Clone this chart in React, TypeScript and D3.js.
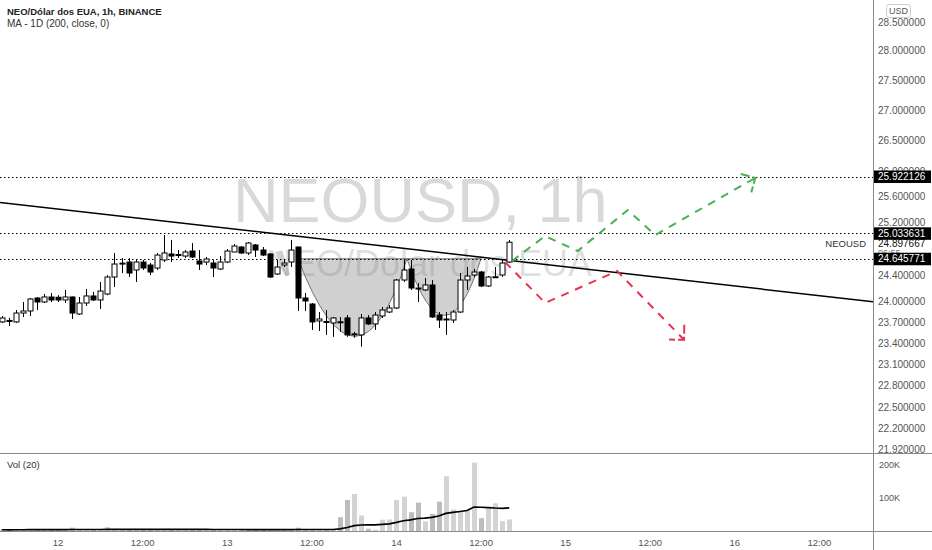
import { useEffect } from "react"
import * as d3 from "d3"

// NEO/USD 1h candles, first candle = 11th 16:00
const startTime = Date.UTC(2021, 0, 11, 16)
const HOUR = 3600000

const opens = [
  23.708, 23.73, 23.708, 23.838, 23.868, 24.059, 24.0, 24.074, 24.07, 24.03,
  24.074, 23.824, 23.985, 24.089, 24.03, 24.118, 24.371, 24.57, 24.596, 24.476,
  24.596, 24.551, 24.506, 24.627, 24.718, 24.7, 24.687, 24.763, 24.612, 24.596,
  24.581, 24.491, 24.596, 24.748, 24.824, 24.733, 24.855, 24.778, 24.718, 24.416,
  24.551, 24.596, 24.824, 24.059, 23.97, 23.722, 23.715, 23.693, 23.71, 23.766,
  23.53, 23.52, 23.766, 23.679, 23.795, 23.853, 23.912, 24.326, 24.491, 24.207,
  24.178, 24.252, 23.809, 23.745, 23.736, 23.853, 24.326, 24.401, 24.446, 24.237,
  24.365, 24.401, 24.596
]
const highs = [
  23.795, 23.766, 23.882, 24.0, 24.059, 24.074, 24.118, 24.133, 24.1, 24.178,
  24.08, 24.074, 24.192, 24.148, 24.297, 24.4, 24.733, 24.657, 24.657, 24.627,
  24.627, 24.581, 24.733, 25.008, 24.931, 24.778, 24.778, 24.885, 24.778, 24.672,
  24.627, 24.687, 24.793, 24.87, 24.839, 24.9, 24.87, 24.824, 24.733, 24.627,
  24.642, 24.931, 24.83, 24.133, 23.985, 23.853, 23.882, 23.78, 23.78, 23.809,
  23.564, 23.824, 23.809, 23.853, 23.926, 23.956, 24.341, 24.627, 24.627, 24.282,
  24.356, 24.326, 23.853, 23.853, 23.882, 24.431, 24.521, 24.491, 24.461, 24.386,
  24.521, 24.627, 24.931
]
const lows = [
  23.693, 23.65, 23.693, 23.78, 23.795, 23.882, 23.985, 24.0, 24.0, 23.985,
  23.751, 23.809, 23.941, 24.015, 23.897, 24.1, 24.222, 24.431, 24.371, 24.297,
  24.476, 24.401, 24.476, 24.596, 24.596, 24.657, 24.657, 24.657, 24.476, 24.551,
  24.371, 24.476, 24.581, 24.748, 24.718, 24.702, 24.672, 24.687, 24.356, 24.401,
  24.521, 24.521, 23.868, 23.868, 23.592, 23.578, 23.52, 23.492, 23.564, 23.492,
  23.478, 23.351, 23.664, 23.592, 23.766, 23.838, 23.897, 24.297, 24.178, 24.0,
  24.162, 23.766, 23.621, 23.52, 23.693, 23.838, 24.178, 24.371, 24.222, 24.222,
  24.356, 24.371, 24.581
]
const closes = [
  23.766, 23.715, 23.838, 23.868, 24.044, 24.0, 24.074, 24.03, 24.03, 24.074,
  23.838, 23.985, 24.089, 24.03, 24.162, 24.371, 24.566, 24.58, 24.431, 24.596,
  24.506, 24.446, 24.702, 24.733, 24.687, 24.71, 24.748, 24.672, 24.566, 24.642,
  24.506, 24.596, 24.763, 24.839, 24.733, 24.885, 24.778, 24.702, 24.371, 24.521,
  24.581, 24.778, 24.059, 24.015, 23.708, 23.751, 23.708, 23.766, 23.708, 23.52,
  23.535, 23.766, 23.679, 23.809, 23.882, 23.912, 24.326, 24.476, 24.207, 24.192,
  24.252, 23.78, 23.736, 23.751, 23.853, 24.326, 24.386, 24.446, 24.237, 24.371,
  24.375, 24.581, 24.897667
]
const volumes = [
  4000, 3000, 5000, 4000, 6000, 3000, 4000, 5000, 3000, 4000,
  10000, 5000, 4000, 3000, 5000, 12000, 6000, 4000, 5000, 3000,
  4000, 5000, 4000, 6000, 5000, 4000, 3000, 4000, 5000, 4000,
  3000, 5000, 4000, 3000, 4000, 5000, 4000, 3000, 4000, 5000,
  4000, 6000, 10000, 5000, 4000, 3000, 4000, 5000, 42000, 94000,
  112000, 47000, 7000, 4000, 34000, 35000, 94000, 104000, 57000, 86000,
  29000, 52000, 89000, 166000, 65000, 60000, 62000, 207000, 39000, 69000,
  84000, 30000, 35000
]

// 24.8 sits under the last-price label and is not shown
const priceTicks = [28.5, 28, 27.5, 27, 26.5, 26, 25.6, 25.2, 24.4, 24, 23.7, 23.4, 23.1, 22.8, 22.5, 22.2, 21.92]
const levelPrices = [25.922126, 25.033631, 24.645771]
const volTicks = [100000, 200000]
const volTickLabels = ["100K", "200K"]

// drawings: [hours after first candle, price]
const trendLine = [[0, 25.51], [100, 24.284]]
const greenPath = [[72.4, 24.612], [77.06, 24.992], [81.7, 24.763], [88.8, 25.394], [92.7, 25.008], [106.9, 25.9]]
const redPath = [[71.4, 24.596], [77.1, 23.985], [87.3, 24.461], [96.8, 23.45]]
const cupLeft = [[42.03, 24.645771], [50.47, 22.405], [57.49, 24.645771]]
const cupRight = [[57.49, 24.645771], [62.95, 22.99], [67.99, 24.645771]]
const wedge = [[38.8, 24.75], [39.8, 24.77], [40.9, 24.41], [40.3, 24.38]]

const W = 932
const H = 550
const axisX = 873
const paneBottom = 453
const volBottom = 531
const font = "'Liberation Sans', Arial, sans-serif"

function arrowHead(pts: number[][], len = 15) {
  const [x1, y1] = pts[pts.length - 2]
  const [x2, y2] = pts[pts.length - 1]
  const back = Math.atan2(y1 - y2, x1 - x2)
  const a = back + Math.PI / 4
  const b = back - Math.PI / 4
  return `M${x2 + len * Math.cos(a)},${y2 + len * Math.sin(a)}L${x2},${y2}L${x2 + len * Math.cos(b)},${y2 + len * Math.sin(b)}`
}

export default function App() {
  useEffect(() => {
    document.body.style.margin = "0"
  }, [])

  const x = d3.scaleUtc()
    .domain([new Date(startTime - 0.241 * HOUR), new Date(startTime + 123.6 * HOUR)])
    .range([0, axisX])
  const y = d3.scaleLog().domain([21.875, 28.889]).range([paneBottom, 0])
  const yVol = d3.scaleLinear().domain([0, 200000]).range([volBottom, 465])

  const tx = (h: number) => x(new Date(startTime + h * HOUR))
  const px = (p: number[]) => [tx(p[0]), y(p[1])]

  const bodyW = 5
  const volMA = volumes.map((_, i) => d3.mean(volumes.slice(Math.max(0, i - 19), i + 1)) as number)
  const maLine = d3.line<number>()
    .x((_, i) => tx(i))
    .y((d) => yVol(d))(volMA)

  // trend line extended across the pane
  const [ta, tb] = trendLine.map(px)
  const slope = (tb[1] - ta[1]) / (tb[0] - ta[0])
  const trendY0 = ta[1] - slope * ta[0]
  const trendY1 = ta[1] + slope * (axisX - ta[0])

  const cupPath = (c: number[][]) => {
    const [p0, p1, p2] = c.map(px)
    return `M${p0[0]},${p0[1]}Q${p1[0]},${p1[1]} ${p2[0]},${p2[1]}Z`
  }

  const greenPx = greenPath.map(px)
  const redPx = redPath.map(px)
  const pathLine = d3.line()

  const timeTicks = x.ticks(d3.utcHour.every(12) as d3.TimeInterval)
  const fmtTime = (d: Date) => (d.getUTCHours() === 0 ? d3.utcFormat("%-d")(d) : d3.utcFormat("%H:%M")(d))
  const fmtPrice = d3.format(".6f")
  const lastClose = closes[closes.length - 1]

  return (
    <svg width={W} height={H} style={{ display: "block", background: "#fff", fontFamily: font }}>
      <defs>
        <clipPath id="pane">
          <rect x={0} y={0} width={axisX} height={paneBottom} />
        </clipPath>
      </defs>

      {/* watermark */}
      <g fill="rgba(0,0,0,0.15)">
        <text x={233} y={222} fontSize={63}>NEOUSD, 1h</text>
        <text x={266} y={276} fontSize={36}>NEO/Dólar dos EUA</text>
      </g>

      <g clipPath="url(#pane)">
        {/* cup drawings */}
        {[cupLeft, cupRight].map((c, i) => (
          <path key={i} d={cupPath(c)} fill="rgba(120,120,120,0.35)" stroke="#555" strokeWidth={0.8} />
        ))}
        <path d={(pathLine(wedge.map(px) as [number, number][]) ?? "") + "Z"} fill="rgba(120,120,120,0.35)" />

        {/* horizontal levels */}
        {levelPrices.map((p) => (
          <line key={p} x1={0} x2={axisX} y1={Math.round(y(p)) + 0.5} y2={Math.round(y(p)) + 0.5}
            stroke="#000" strokeWidth={1.2} strokeDasharray="1.5,2.5" />
        ))}

        {/* trend line */}
        <line x1={0} y1={trendY0} x2={axisX} y2={trendY1} stroke="#000" strokeWidth={1.5} />

        {/* candles */}
        {opens.map((o, i) => {
          const c = closes[i]
          const cx = Math.round(tx(i)) + 0.5
          const up = c >= o
          const top = y(Math.max(o, c))
          const bot = y(Math.min(o, c))
          return (
            <g key={i}>
              <line x1={cx} x2={cx} y1={y(highs[i])} y2={y(lows[i])} stroke="#000" strokeWidth={1} />
              <rect x={cx - bodyW / 2} y={top} width={bodyW} height={Math.max(1, bot - top)}
                fill={up ? "#fff" : "#000"} stroke="#000" strokeWidth={1} />
            </g>
          )
        })}

        {/* projection arrows */}
        <path d={pathLine(greenPx as [number, number][]) ?? ""} fill="none" stroke="#4caf50" strokeWidth={2} strokeDasharray="8,7" />
        <path d={arrowHead(greenPx)} fill="none" stroke="#4caf50" strokeWidth={2} strokeDasharray="9,3" />
        <path d={pathLine(redPx as [number, number][]) ?? ""} fill="none" stroke="#e8344e" strokeWidth={2} strokeDasharray="8,7" />
        <path d={arrowHead(redPx)} fill="none" stroke="#e8344e" strokeWidth={2} strokeDasharray="9,3" />
      </g>

      {/* volume pane */}
      {volumes.map((v, i) => {
        const cx = Math.round(tx(i))
        const up = closes[i] >= opens[i]
        return (
          <rect key={i} x={cx - 2} y={yVol(v)} width={5} height={volBottom - yVol(v)}
            fill={up ? "#d3d3d3" : "#bdbdbd"} />
        )
      })}
      <path d={maLine ?? ""} fill="none" stroke="#000" strokeWidth={1.6} />

      {/* legend */}
      <text x={7} y={15} fontSize={9.5} fontWeight="bold" fill="#222">NEO/Dólar dos EUA, 1h, BINANCE</text>
      <text x={7} y={27} fontSize={10} fill="#333">MA - 1D (200, close, 0)</text>
      <text x={7} y={468} fontSize={9.5} fill="#333">Vol (20)</text>

      {/* price axis */}
      <g fontSize={10} fill="#555">
        {priceTicks.map((p) => (
          <text key={p} x={878} y={y(p)} dy="0.35em">{fmtPrice(p)}</text>
        ))}
      </g>
      <text x={866} y={y(lastClose) + 1} dy="0.35em" fontSize={9.5} textAnchor="end" fill="#333">NEOUSD</text>
      <text x={878} y={y(lastClose) + 1} dy="0.35em" fontSize={10} fill="#111">{fmtPrice(lastClose)}</text>
      <text x={878} y={y(lastClose) + 11} dy="0.35em" fontSize={9} fill="#777">06:55</text>
      {levelPrices.map((p) => (
        <g key={p}>
          <rect x={874} y={y(p) - 6} width={57} height={12.5} fill="#000" />
          <text x={878} y={y(p)} dy="0.35em" fontSize={10} fill="#fff">{fmtPrice(p)}</text>
        </g>
      ))}
      <g fontSize={9} fill="#555">
        {volTicks.map((v, i) => (
          <text key={v} x={879} y={yVol(v)} dy="0.35em">{volTickLabels[i]}</text>
        ))}
      </g>

      {/* USD badge */}
      <rect x={886.5} y={4.5} width={24} height={13} rx={3} fill="#fff" stroke="#ccc" />
      <text x={898.5} y={11} dy="0.35em" fontSize={9} textAnchor="middle" fill="#555">USD</text>

      {/* frame lines */}
      <line x1={0} x2={W} y1={paneBottom + 0.5} y2={paneBottom + 0.5} stroke="#8a8a8a" />
      <line x1={0} x2={W} y1={volBottom + 0.5} y2={volBottom + 0.5} stroke="#8a8a8a" />
      <line x1={axisX + 0.5} x2={axisX + 0.5} y1={0} y2={H} stroke="#8a8a8a" />

      {/* time axis */}
      <g fontSize={9.5} fill="#555" textAnchor="middle">
        {timeTicks.map((t) => (
          <text key={t.getTime()} x={x(t)} y={546}>{fmtTime(t)}</text>
        ))}
      </g>
    </svg>
  )
}
